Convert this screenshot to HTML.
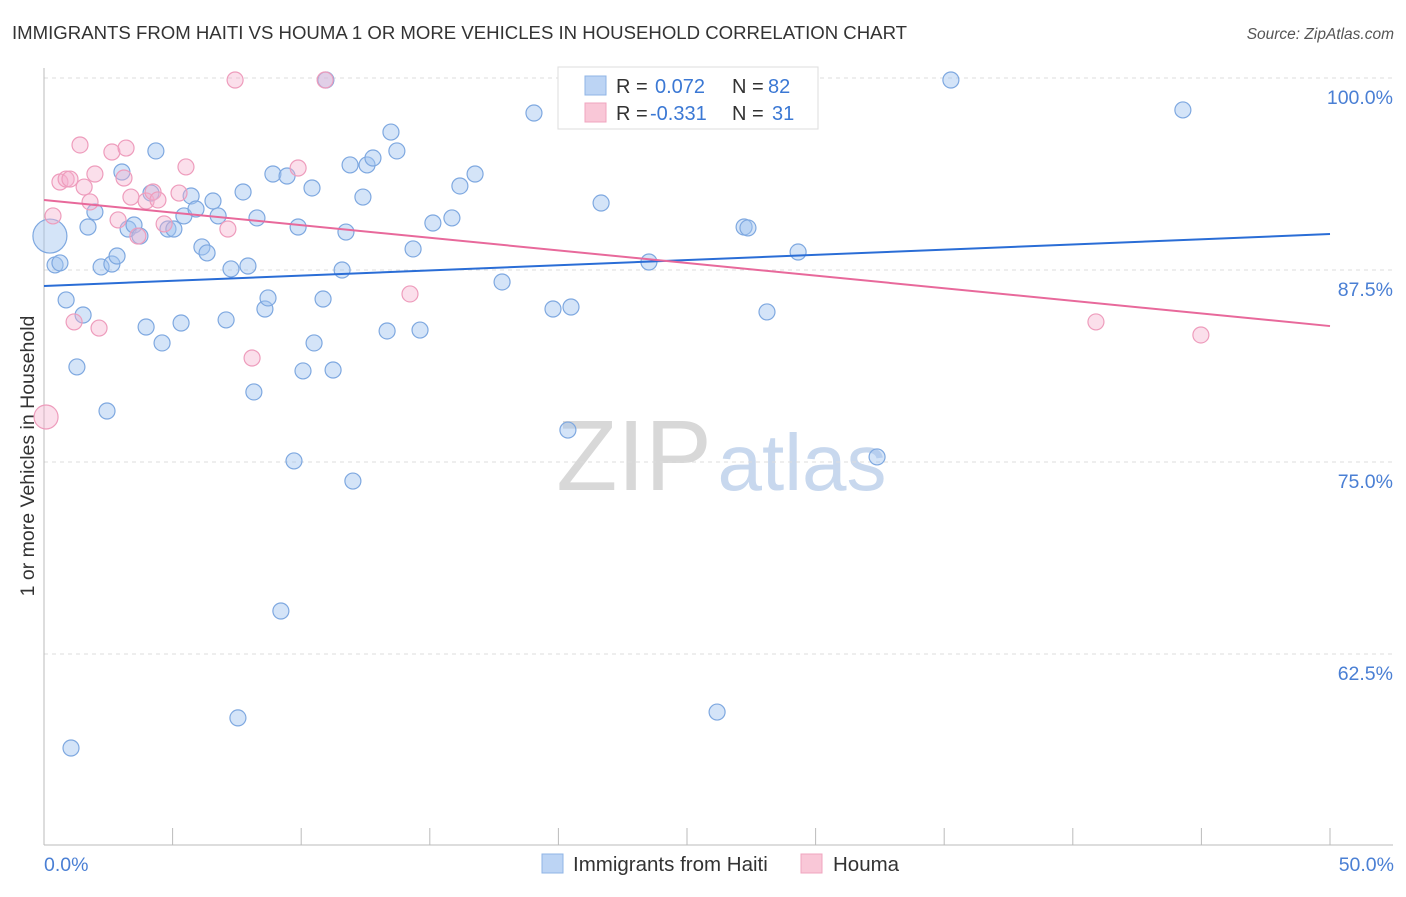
<!DOCTYPE html>
<html><head><meta charset="utf-8">
<style>
body{margin:0;background:#fff;font-family:"Liberation Sans",sans-serif;}
svg text{font-family:"Liberation Sans",sans-serif;}
</style></head>
<body>
<svg id="chart" width="1406" height="892" xmlns="http://www.w3.org/2000/svg">
<text x="12" y="39" font-size="18.6" fill="#333">IMMIGRANTS FROM HAITI VS HOUMA 1 OR MORE VEHICLES IN HOUSEHOLD CORRELATION CHART</text>
<text x="1394" y="39" font-size="15.5" fill="#555" font-style="italic" text-anchor="end">Source: ZipAtlas.com</text>
<text transform="translate(34,456) rotate(-90)" font-size="19.5" fill="#333" text-anchor="middle">1 or more Vehicles in Household</text>
<g>
<text x="634" y="490" font-size="100" fill="#d8d8d8" font-family="Liberation Serif,serif" text-anchor="middle">ZIP</text>
<text x="802" y="490" font-size="80" fill="#c8d8ee" text-anchor="middle">atlas</text>
</g>
<g id="grid"></g>
<g id="axes"></g>
<g id="marks"></g>
<g>
<rect x="558" y="67" width="260" height="62" fill="#fff" stroke="#ddd"/>
<rect x="585" y="76" width="21" height="19" fill="#bcd4f4" stroke="#8fb4e6"/>
<text x="616" y="93" font-size="20" fill="#333">R = </text><text x="655" y="93" font-size="20" fill="#3b78d4">0.072</text>
<text x="732" y="93" font-size="20" fill="#333">N = </text><text x="768" y="93" font-size="20" fill="#3b78d4">82</text>
<rect x="585" y="103" width="21" height="19" fill="#f9c7d7" stroke="#f0a4bf"/>
<text x="616" y="120" font-size="20" fill="#333">R = </text><text x="650" y="120" font-size="20" fill="#3b78d4">-0.331</text>
<text x="732" y="120" font-size="20" fill="#333">N = </text><text x="772" y="120" font-size="20" fill="#3b78d4">31</text>
</g>
<g>
<rect x="542" y="854" width="21" height="19" fill="#bcd4f4" stroke="#8fb4e6"/>
<text x="573" y="871" font-size="20.5" fill="#333">Immigrants from Haiti</text>
<rect x="801" y="854" width="21" height="19" fill="#f9c7d7" stroke="#f0a4bf"/>
<text x="833" y="871" font-size="20.5" fill="#333">Houma</text>
</g>
</svg>
<script>
const xTicks=[0,5,10,15,20,25,30,35,40,45,50];
const yTicks=[62.5,75,87.5,100];
const yTickLabels=["62.5%","75.0%","87.5%","100.0%"];
const blueX=[0.23,0.43,0.62,0.86,1.05,1.28,1.52,1.71,1.98,2.22,2.45,2.64,2.84,3.03,3.27,3.50,3.73,3.97,4.16,4.35,4.59,4.82,5.05,5.33,5.44,5.72,5.91,6.14,6.34,6.57,6.77,7.08,7.27,7.54,7.74,7.93,8.16,8.28,8.59,8.71,8.90,9.21,9.45,9.72,9.88,10.07,10.42,10.50,10.85,10.96,11.24,11.59,11.74,11.90,12.01,12.40,12.56,12.79,13.34,13.49,13.72,14.35,14.62,15.12,15.86,16.17,16.76,17.81,19.05,19.79,20.37,20.49,21.66,23.52,26.17,27.22,27.37,28.11,29.32,32.39,35.26,44.28];
const blueY=[89.71,87.83,87.96,85.55,56.38,81.19,84.57,90.30,91.28,87.70,78.32,87.89,88.41,93.88,90.17,90.43,89.71,83.79,92.51,95.25,82.75,90.17,90.17,84.05,91.02,92.32,91.47,89.00,88.61,91.99,91.02,84.25,87.57,58.34,92.58,87.76,79.56,90.89,84.96,85.68,93.75,65.30,93.62,75.07,90.30,80.93,92.84,82.75,85.61,99.87,80.99,87.50,89.97,94.34,73.76,92.25,94.34,94.79,83.53,96.48,95.25,88.87,83.59,90.56,90.89,92.97,93.75,86.72,97.72,84.96,77.08,85.09,91.86,88.02,58.72,90.30,90.24,84.77,88.67,75.33,99.87,97.92];
const pinkX=[0.08,0.35,0.62,0.86,1.01,1.17,1.40,1.56,1.79,1.98,2.14,2.64,2.88,3.11,3.19,3.38,3.65,3.97,4.24,4.43,4.67,5.25,5.52,7.15,7.43,8.09,9.88,10.93,14.23,40.90,44.98];
const pinkY=[77.93,91.02,93.23,93.42,93.42,84.12,95.64,92.90,91.93,93.75,83.72,95.18,90.76,93.49,95.44,92.25,89.71,91.99,92.58,92.06,90.50,92.51,94.21,90.17,99.87,81.77,94.14,99.87,85.94,84.12,83.27];
const blueTrend=[86.46,89.84];
const pinkTrend=[92.06,83.85];
const NS="http://www.w3.org/2000/svg";
const X=v=>44+v*25.72, Y=v=>78+(100-v)*15.36;
function mk(tag,attrs,parent){const e=document.createElementNS(NS,tag);for(const k in attrs)e.setAttribute(k,attrs[k]);parent.appendChild(e);return e;}
const grid=document.getElementById('grid'),axes=document.getElementById('axes'),marks=document.getElementById('marks');
yTicks.forEach((t,i)=>{
 const l=mk('line',{x1:44,x2:1393,y1:Y(t),y2:Y(t),stroke:'#ddd','stroke-dasharray':'4,4'},grid);
 
 
 const tx=mk('text',{x:1393,y:Y(t)+26,'font-size':19.5,fill:'#4a7fd4','text-anchor':'end'},axes);
 tx.textContent=yTickLabels[i];
 
 
});
const ya=mk('line',{x1:44,x2:44,y1:68,y2:845,stroke:'#bbb'},axes);


const xa=mk('line',{x1:44,x2:1393,y1:845,y2:845,stroke:'#bbb'},axes);


xTicks.forEach(t=>{
 const l=mk('line',{x1:X(t),x2:X(t),y1:828,y2:845,stroke:'#bbb'},axes);
 
 
});
[[0,'0.0%','start',44],[50,'50.0%','end',1394]].forEach(a=>{
 const tx=mk('text',{x:a[3],y:871,'font-size':19.5,fill:'#4a7fd4','text-anchor':a[2]},axes);
 tx.textContent=a[1];
 
 
});
function pts(xs,ys,fill,stroke,name,bigR){
 xs.forEach((x,i)=>{
  const c=mk('circle',{cx:X(x),cy:Y(ys[i]),r:i===0?bigR:8,fill:fill,stroke:stroke,'stroke-width':1.2},marks);
  
  
 });
}
pts(blueX,blueY,'rgba(160,196,240,0.45)','#7ea8e0','haiti-point',17);
pts(pinkX,pinkY,'rgba(246,176,204,0.4)','#ee9cbc','houma-point',12);
const bl=mk('line',{x1:X(0),x2:X(50),y1:Y(blueTrend[0]),y2:Y(blueTrend[1]),stroke:'#2a6dd6','stroke-width':2},marks);


const pl=mk('line',{x1:X(0),x2:X(50),y1:Y(pinkTrend[0]),y2:Y(pinkTrend[1]),stroke:'#e8699b','stroke-width':2},marks);


</script>
</body></html>
